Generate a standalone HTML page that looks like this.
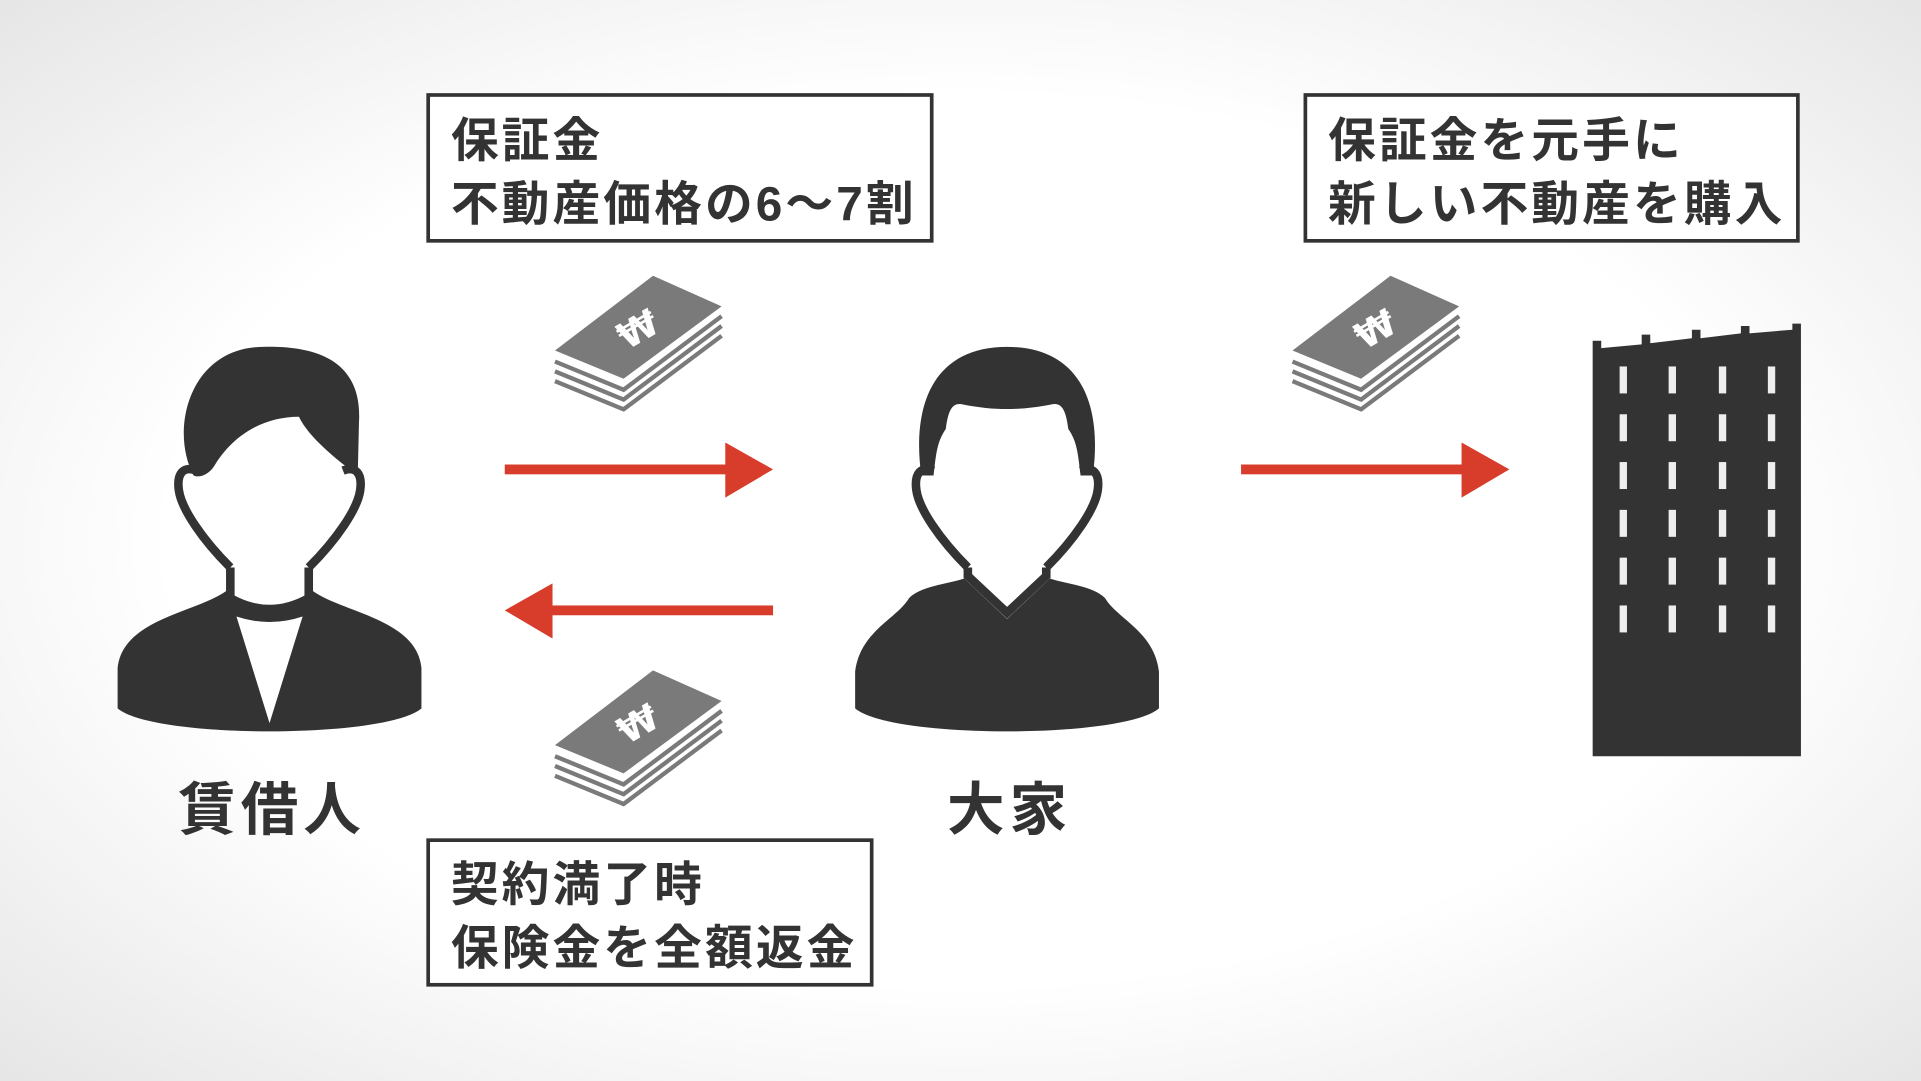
<!DOCTYPE html>
<html><head><meta charset="utf-8"><style>
html,body{margin:0;padding:0;width:1921px;height:1081px;overflow:hidden;background:#fff}
svg{display:block}
text{font-family:"Liberation Sans","Noto Sans CJK JP",sans-serif;font-weight:bold;fill:#333}
.bt{letter-spacing:2.5px}
</style></head><body>
<svg width="1921" height="1081" viewBox="0 0 1568 882" preserveAspectRatio="none" xmlns="http://www.w3.org/2000/svg">
<defs>
<radialGradient id="bg" cx="50%" cy="50%" r="75%">
<stop offset="0.55" stop-color="#ffffff"/><stop offset="1" stop-color="#e2e2e2"/>
</radialGradient>
<g id="money">
<polygon points="453,286 533,225 589,250 509,309" fill="#7a7a7a"/>
<polyline points="453,295 509,318 589,258" fill="none" stroke="#7a7a7a" stroke-width="3.5"/>
<polyline points="453,303 509,326 589,266" fill="none" stroke="#7a7a7a" stroke-width="3.5"/>
<polyline points="453,311 509,334 589,274" fill="none" stroke="#7a7a7a" stroke-width="3.5"/>
<text x="521" y="279" font-size="30" transform="rotate(-30 521 269)" text-anchor="middle" style="fill:#fff;font-family:'DejaVu Sans',sans-serif">₩</text>
</g>
</defs>
<rect width="1568" height="882" fill="url(#bg)"/>

<rect x="349.5" y="77.5" width="411" height="119" fill="#fff" stroke="#333" stroke-width="3"/>
<text class="bt" x="368" y="128" font-size="39">保証金</text>
<text class="bt" x="368" y="180" font-size="39">不動産価格の6～7割</text>
<rect x="1065.5" y="77.5" width="402" height="119" fill="#fff" stroke="#333" stroke-width="3"/>
<text class="bt" x="1084" y="128" font-size="39">保証金を元手に</text>
<text class="bt" x="1084" y="180" font-size="39">新しい不動産を購入</text>
<rect x="349.5" y="685.5" width="362" height="118" fill="#fff" stroke="#333" stroke-width="3"/>
<text class="bt" x="368" y="735" font-size="39">契約満了時</text>
<text class="bt" x="368" y="787" font-size="39">保険金を全額返金</text>

<g fill="#d83c2b">
<rect x="412" y="379" width="184" height="8"/><polygon points="592,361 631,383 592,406"/>
<rect x="448" y="494" width="183" height="8"/><polygon points="451,476 412,498 451,521"/>
<rect x="1013" y="379" width="184" height="8"/><polygon points="1193,361 1232,383 1193,406"/>
</g>

<use href="#money"/>
<use href="#money" transform="translate(0,322)"/>
<use href="#money" transform="translate(602,0)"/>

<path d="M1300,278 L1307,278 L1307,284 L1340,281 L1340,273 L1347,273 L1347,280 L1381,276 L1381,269 L1388,269 L1388,276 L1421,272 L1421,266 L1428,266 L1428,272 L1463,269 L1463,264 L1470,264 L1470,617 L1300,617 Z" fill="#333"/>
<g fill="#eee">
<rect x="1322" y="299" width="6" height="22"/><rect x="1362" y="299" width="6" height="22"/><rect x="1403" y="299" width="6" height="22"/><rect x="1443" y="299" width="6" height="22"/>
<rect x="1322" y="338" width="6" height="22"/><rect x="1362" y="338" width="6" height="22"/><rect x="1403" y="338" width="6" height="22"/><rect x="1443" y="338" width="6" height="22"/>
<rect x="1322" y="377" width="6" height="22"/><rect x="1362" y="377" width="6" height="22"/><rect x="1403" y="377" width="6" height="22"/><rect x="1443" y="377" width="6" height="22"/>
<rect x="1322" y="416" width="6" height="22"/><rect x="1362" y="416" width="6" height="22"/><rect x="1403" y="416" width="6" height="22"/><rect x="1443" y="416" width="6" height="22"/>
<rect x="1322" y="455" width="6" height="22"/><rect x="1362" y="455" width="6" height="22"/><rect x="1403" y="455" width="6" height="22"/><rect x="1443" y="455" width="6" height="22"/>
<rect x="1322" y="494" width="6" height="22"/><rect x="1362" y="494" width="6" height="22"/><rect x="1403" y="494" width="6" height="22"/><rect x="1443" y="494" width="6" height="22"/>
</g>

<!-- woman -->
<g transform="translate(220,0)">
<path d="M-124,545 C-120,505 -60,500 -35,482 L35,482 C60,500 120,505 124,545 L124,578 C95,603 -95,603 -124,578 Z" fill="#333"/>
<path d="M-32,440 L-32,488 Q0,506 32,488 L32,440 Z" fill="#fff" stroke="#333" stroke-width="7"/>
<path d="M-27,503 Q0,512 27,503 L0,590 Z" fill="#fff"/>
<path d="M-32,463 C-55,440 -72,415 -74,400 C-76,386 -70,380 -60,384 C-62,330 -40,315 0,315 C40,315 62,330 60,384 C70,380 76,386 74,400 C72,415 55,440 32,463 Z" fill="#fff"/>
<path d="M-60,384 C-70,380 -76,386 -74,400 C-72,415 -55,440 -32,463 M32,463 C55,440 72,415 74,400 C76,386 70,380 60,384" fill="none" stroke="#333" stroke-width="7"/>
<path d="M-62,388 C-82,350 -65,283 -5,283 C40,282 76,295 73,345 L72,388 C55,375 32,357 24,340 C-5,340 -30,355 -45,380 C-50,388 -58,390 -62,388 Z" fill="#333"/>
</g>

<!-- man -->
<g transform="translate(822,0)">
<path d="M-124,548 C-120,515 -90,505 -80,488 C-70,478 -50,477 -35,472 L0,505 L35,472 C50,477 70,478 80,488 C90,505 120,515 124,548 L124,578 C95,603 -95,603 -124,578 Z" fill="#333"/>
<path d="M-32,440 L-32,470 L0,500 L32,470 L32,440 Z" fill="#fff" stroke="#333" stroke-width="7"/>
<path d="M-32,463 C-55,440 -72,415 -74,400 C-76,386 -70,380 -60,384 C-62,330 -40,315 0,315 C40,315 62,330 60,384 C70,380 76,386 74,400 C72,415 55,440 32,463 Z" fill="#fff"/>
<path d="M-60,384 C-70,380 -76,386 -74,400 C-72,415 -55,440 -32,463 M32,463 C55,440 72,415 74,400 C76,386 70,380 60,384" fill="none" stroke="#333" stroke-width="7"/>
<path d="M-70,388 C-78,330 -60,283 0,283 C60,283 78,330 70,388 L60,388 C58,370 57,360 50,350 C48,335 45,328 36,330 C10,335 -10,335 -36,330 C-45,328 -48,335 -50,350 C-57,360 -58,370 -60,388 Z" fill="#333"/>
</g>

<text x="222" y="677" font-size="47" text-anchor="middle" letter-spacing="4">賃借人</text>
<text x="824" y="677" font-size="47" text-anchor="middle" letter-spacing="4">大家</text>
</svg>
</body></html>
